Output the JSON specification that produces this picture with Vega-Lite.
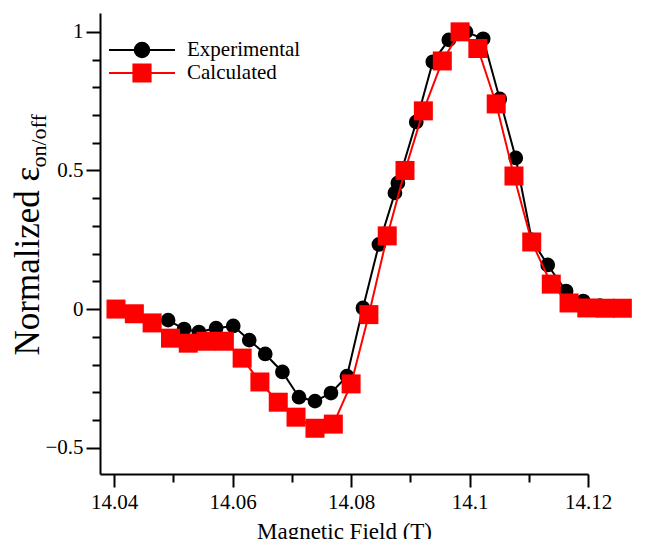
{
  "$schema": "https://vega.github.io/schema/vega-lite/v6.json",
  "autosize": {"type": "none"},
  "width": 488,
  "height": 461,
  "padding": {"left": 100, "top": 13, "right": 70, "bottom": 65},
  "background": "white",
  "config": {
    "font": "Liberation Serif",
    "view": {"stroke": null},
    "axis": {"grid": false, "domainColor": "black", "domainWidth": 2, "tickColor": "black", "tickWidth": 2, "labelFont": "Liberation Serif", "labelFontSize": 21, "labelColor": "black", "titleFont": "Liberation Serif", "titleColor": "black", "titleFontWeight": "normal", "labelOverlap": false, "labelFlush": false, "labelBound": false},
    "legend": {"labelFont": "Liberation Serif", "titleFont": "Liberation Serif"}
  },
  "data": {"values": [
    {"series": "Experimental", "field": 14.0491, "value": -0.040},
    {"series": "Experimental", "field": 14.0518, "value": -0.072},
    {"series": "Experimental", "field": 14.0543, "value": -0.083},
    {"series": "Experimental", "field": 14.0572, "value": -0.069},
    {"series": "Experimental", "field": 14.0601, "value": -0.061},
    {"series": "Experimental", "field": 14.0628, "value": -0.112},
    {"series": "Experimental", "field": 14.0655, "value": -0.162},
    {"series": "Experimental", "field": 14.0684, "value": -0.227},
    {"series": "Experimental", "field": 14.0712, "value": -0.318},
    {"series": "Experimental", "field": 14.0739, "value": -0.332},
    {"series": "Experimental", "field": 14.0766, "value": -0.303},
    {"series": "Experimental", "field": 14.0793, "value": -0.242},
    {"series": "Experimental", "field": 14.0820, "value": 0.004},
    {"series": "Experimental", "field": 14.0847, "value": 0.233},
    {"series": "Experimental", "field": 14.0874, "value": 0.419},
    {"series": "Experimental", "field": 14.0879, "value": 0.455},
    {"series": "Experimental", "field": 14.0910, "value": 0.675},
    {"series": "Experimental", "field": 14.0938, "value": 0.892},
    {"series": "Experimental", "field": 14.0965, "value": 0.971},
    {"series": "Experimental", "field": 14.0994, "value": 1.0},
    {"series": "Experimental", "field": 14.1023, "value": 0.975},
    {"series": "Experimental", "field": 14.1051, "value": 0.758},
    {"series": "Experimental", "field": 14.1078, "value": 0.545},
    {"series": "Experimental", "field": 14.1105, "value": 0.25},
    {"series": "Experimental", "field": 14.1132, "value": 0.159},
    {"series": "Experimental", "field": 14.1163, "value": 0.065},
    {"series": "Experimental", "field": 14.1192, "value": 0.029},
    {"series": "Experimental", "field": 14.1220, "value": 0.012},
    {"series": "Calculated", "field": 14.0403, "value": 0.0},
    {"series": "Calculated", "field": 14.0434, "value": -0.017},
    {"series": "Calculated", "field": 14.0464, "value": -0.05},
    {"series": "Calculated", "field": 14.0495, "value": -0.105},
    {"series": "Calculated", "field": 14.0525, "value": -0.123},
    {"series": "Calculated", "field": 14.0555, "value": -0.116},
    {"series": "Calculated", "field": 14.0586, "value": -0.116},
    {"series": "Calculated", "field": 14.0616, "value": -0.177},
    {"series": "Calculated", "field": 14.0646, "value": -0.263},
    {"series": "Calculated", "field": 14.0677, "value": -0.336},
    {"series": "Calculated", "field": 14.0707, "value": -0.39},
    {"series": "Calculated", "field": 14.0739, "value": -0.43},
    {"series": "Calculated", "field": 14.0770, "value": -0.415},
    {"series": "Calculated", "field": 14.0800, "value": -0.27},
    {"series": "Calculated", "field": 14.0830, "value": -0.02},
    {"series": "Calculated", "field": 14.0861, "value": 0.264},
    {"series": "Calculated", "field": 14.0891, "value": 0.50},
    {"series": "Calculated", "field": 14.0922, "value": 0.715},
    {"series": "Calculated", "field": 14.0954, "value": 0.895},
    {"series": "Calculated", "field": 14.0984, "value": 1.0},
    {"series": "Calculated", "field": 14.1014, "value": 0.94},
    {"series": "Calculated", "field": 14.1045, "value": 0.74},
    {"series": "Calculated", "field": 14.1075, "value": 0.48},
    {"series": "Calculated", "field": 14.1105, "value": 0.242},
    {"series": "Calculated", "field": 14.1138, "value": 0.09},
    {"series": "Calculated", "field": 14.1168, "value": 0.022},
    {"series": "Calculated", "field": 14.1198, "value": 0.004},
    {"series": "Calculated", "field": 14.1229, "value": 0.003},
    {"series": "Calculated", "field": 14.1258, "value": 0.003}
  ]},
  "resolve": {"axis": {"y": "independent"}},
  "layer": [
    {
      "transform": [{"filter": "datum.series === 'Experimental'"}],
      "mark": {"type": "line", "strokeWidth": 2},
      "encoding": {
        "x": {"field": "field", "type": "quantitative", "scale": {"domain": [14.0376, 14.12], "nice": false, "zero": false},
          "axis": {
            "values": [14.04,14.045,14.05,14.055,14.06,14.065,14.07,14.075,14.08,14.085,14.09,14.095,14.1,14.105,14.11,14.115,14.12],
            "labelExpr": "abs(datum.value*50 - round(datum.value*50)) < 0.001 ? format(datum.value, '~g') : ''",
            "tickSize": {"condition": {"test": "abs(datum.value*50 - round(datum.value*50)) < 0.001", "value": 13}, "value": 8},
            "labelPadding": 4, "labelFont": "Liberation Serif", "labelFontSize": 21,
            "title": "Magnetic Field (T)", "titleFont": "Liberation Serif", "titleFontSize": 23, "titlePadding": 8
          }},
        "y": {"field": "value", "type": "quantitative", "scale": {"domain": [-0.595, 1.068], "nice": false, "zero": false},
          "axis": {
            "orient": "left",
            "values": [-0.5,-0.4,-0.3,-0.2,-0.1,0,0.1,0.2,0.3,0.4,0.5,0.6,0.7,0.8,0.9,1],
            "labelExpr": "abs(datum.value*2 - round(datum.value*2)) < 0.001 ? format(datum.value, '~g') : ''",
            "tickSize": {"condition": {"test": "abs(datum.value*2 - round(datum.value*2)) < 0.001", "value": 14}, "value": 8},
            "labelPadding": 3, "labelFont": "Liberation Serif", "labelFontSize": 21,
            "title": "Normalized ε", "titleFont": "Liberation Serif", "titleFontSize": 35, "titleAngle": 270, "titleAlign": "left", "titleBaseline": "alphabetic", "titleX": -62, "titleY": 342
          }},
        "color": {"field": "series", "type": "nominal",
          "scale": {"domain": ["Experimental", "Calculated"], "range": ["black", "red"]},
          "legend": {
            "title": null, "orient": "none", "legendX": 8, "legendY": 25.5, "padding": 0,
            "clipHeight": 23, "rowPadding": 0, "labelOffset": 11,
            "labelFont": "Liberation Serif", "labelFontSize": 21, "labelColor": "black",
            "encode": {"symbols": {"update": {
              "shape": {"signal": "datum.value === 'Experimental' ? 'M-1,0H1M-0.22,0A0.22,0.22,0,1,0,0.22,0A0.22,0.22,0,1,0,-0.22,0Z' : 'M-1,0H1M-0.26,-0.26H0.26V0.26H-0.26Z'"},
              "size": {"value": 4356},
              "strokeWidth": {"value": 2},
              "fill": {"signal": "datum.value === 'Experimental' ? 'black' : 'red'"},
              "stroke": {"signal": "datum.value === 'Experimental' ? 'black' : 'red'"},
              "opacity": {"value": 1}
            }}}
          }}
      }
    },
    {
      "transform": [{"filter": "datum.series === 'Experimental'"}],
      "mark": {"type": "point", "shape": "circle", "filled": true, "size": 217, "opacity": 1},
      "encoding": {
        "x": {"field": "field", "type": "quantitative"},
        "y": {"field": "value", "type": "quantitative", "axis": null},
        "color": {"field": "series", "type": "nominal"}
      }
    },
    {
      "transform": [{"filter": "datum.series === 'Calculated'"}],
      "mark": {"type": "line", "strokeWidth": 2},
      "encoding": {
        "x": {"field": "field", "type": "quantitative"},
        "y": {"field": "value", "type": "quantitative",
          "axis": {"orient": "left", "domain": false, "ticks": false, "labels": false, "title": "on/off", "titleFont": "Liberation Serif", "titleFontSize": 22, "titleAngle": 270, "titleAlign": "left", "titleBaseline": "alphabetic", "titleX": -55, "titleY": 154}},
        "color": {"field": "series", "type": "nominal"}
      }
    },
    {
      "transform": [{"filter": "datum.series === 'Calculated'"}],
      "mark": {"type": "point", "shape": "square", "filled": true, "size": 361, "opacity": 1},
      "encoding": {
        "x": {"field": "field", "type": "quantitative"},
        "y": {"field": "value", "type": "quantitative", "axis": null},
        "color": {"field": "series", "type": "nominal"}
      }
    }
  ]
}
